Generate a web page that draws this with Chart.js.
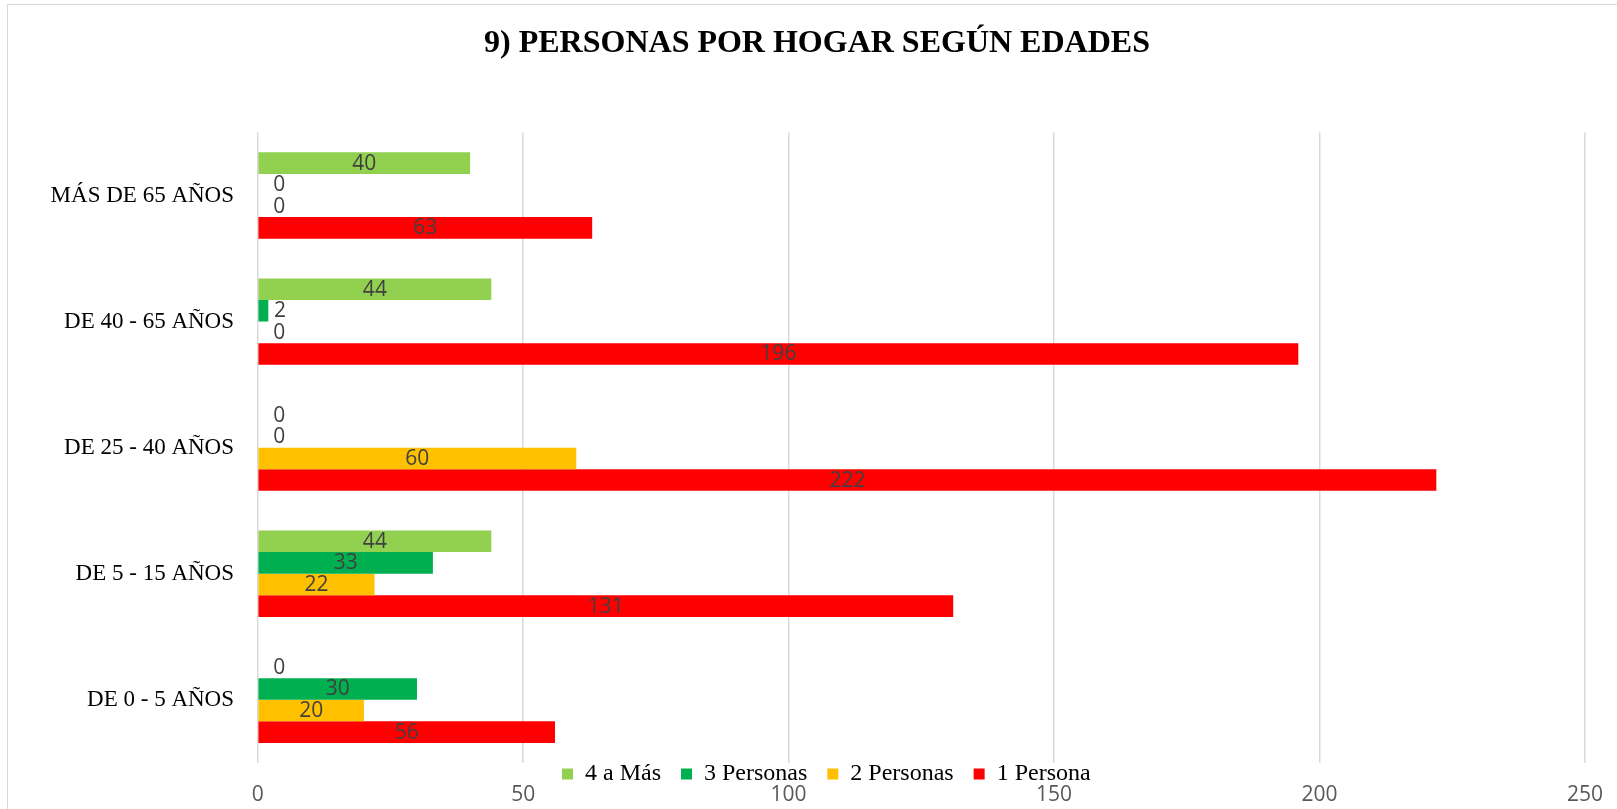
<!DOCTYPE html>
<html>
<head>
<meta charset="utf-8">
<script src="https://cdn.jsdelivr.net/npm/chart.js@4/dist/chart.umd.min.js"></script>
<style>
  html, body { margin: 0; padding: 0; background: #fff; overflow: hidden; width: 1617px; height: 809px; }
  #frame { position: absolute; left: 7px; top: 4px; width: 1700px; height: 900px; border: 1px solid #d9d9d9; }
  #wrap { position: absolute; left: 0; top: 0; width: 1617px; height: 809px; }
</style>
</head>
<body>
<div id="frame"></div>
<div id="wrap"><canvas id="c" width="1617" height="809"></canvas></div>
<script>
const categories = ['MÁS DE 65 AÑOS', 'DE 40 - 65 AÑOS', 'DE 25 - 40 AÑOS', 'DE 5 - 15 AÑOS', 'DE 0 - 5 AÑOS'];
const cuatroAMas   = [40, 44, 0, 44, 0];
const tresPersonas = [0, 2, 0, 33, 30];
const dosPersonas  = [0, 0, 60, 22, 20];
const unaPersona   = [63, 196, 222, 131, 56];
const seriesNames  = ['4 a Más', '3 Personas', '2 Personas', '1 Persona'];
const seriesColors = ['#92D050', '#00B050', '#FFC000', '#FF0000'];
const xMin = 0, xMax = 250, xStep = 50;
const titleText = '9) PERSONAS POR HOGAR SEGÚN EDADES';

const LEGEND_PAD = 20;

const valueLabels = {
  id: 'valueLabels',
  afterDatasetsDraw(chart) {
    const ctx = chart.ctx;
    ctx.save();
    ctx.font = '21px "Open Sans"';
    ctx.fillStyle = '#404040';
    ctx.textBaseline = 'middle';
    chart.data.datasets.forEach((ds, di) => {
      const meta = chart.getDatasetMeta(di);
      meta.data.forEach((el, i) => {
        const p = el.getProps(['x', 'y', 'base'], true);
        const txt = String(ds.data[i]);
        const tw = ctx.measureText(txt).width;
        const bw = Math.abs(p.x - p.base);
        if (bw > tw + 4) {
          ctx.textAlign = 'center';
          ctx.fillText(txt, (p.x + p.base) / 2, p.y + 0.5);
        } else {
          ctx.textAlign = 'left';
          ctx.fillText(txt, p.base + 15.5, p.y + 0.5);
        }
      });
    });
    ctx.restore();
  }
};

const legendPlace = {
  id: 'legendPlace',
  afterLayout(chart) {
    const lg = chart.legend;
    if (!lg) return;
    // one item per column so the items run in a single row
    lg.update(1300, 50, {left: 0, top: 0, right: 0, bottom: 0});
    const h = lg.height;
    lg.left = 562 - LEGEND_PAD;
    lg.right = 1617;
    lg.width = lg.right - lg.left;
    lg.top = 762 - LEGEND_PAD;
    lg.bottom = lg.top + h;
  }
};

new Chart(document.getElementById('c'), {
  type: 'bar',
  data: {
    labels: categories,
    datasets: [cuatroAMas, tresPersonas, dosPersonas, unaPersona].map((d, k) => ({
      label: seriesNames[k],
      data: d,
      backgroundColor: seriesColors[k],
      borderWidth: 0,
      categoryPercentage: 0.685,
      barPercentage: 1.0
    }))
  },
  options: {
    indexAxis: 'y',
    responsive: false,
    animation: false,
    layout: { padding: { left: 49, right: 32, top: 0, bottom: 4 } },
    plugins: {
      title: {
        display: true,
        text: titleText,
        color: '#000',
        font: { family: 'Liberation Serif', size: 32, weight: 'bold' },
        padding: { top: 24.5, bottom: 69.6 }
      },
      legend: {
        display: true,
        position: 'chartArea',
        fullSize: false,
        align: 'start',
        labels: {
          color: '#000',
          font: { family: 'Liberation Serif', size: 24 },
          boxWidth: 11,
          boxHeight: 11,
          padding: LEGEND_PAD
        }
      },
      tooltip: { enabled: false }
    },
    scales: {
      x: {
        type: 'linear',
        position: 'bottom',
        min: xMin,
        max: xMax,
        ticks: {
          stepSize: xStep,
          color: '#595959',
          font: { family: 'Open Sans', size: 21 },
          padding: 19.5
        },
        grid: { color: '#d9d9d9', lineWidth: 1.5, drawTicks: false },
        border: { display: false },
        afterFit(scale) {
          scale.height = 42.2;
          scale.paddingRight = 0;
          scale.paddingLeft = 0;
        }
      },
      y: {
        type: 'category',
        ticks: {
          color: '#000',
          font: { family: 'Liberation Serif', size: 23 },
          padding: 23.7
        },
        grid: { display: false, drawTicks: false },
        border: { display: false },
        afterFit(scale) { scale.width = 208.7; }
      }
    }
  },
  plugins: [valueLabels, legendPlace]
});
</script>
</body>
</html>
